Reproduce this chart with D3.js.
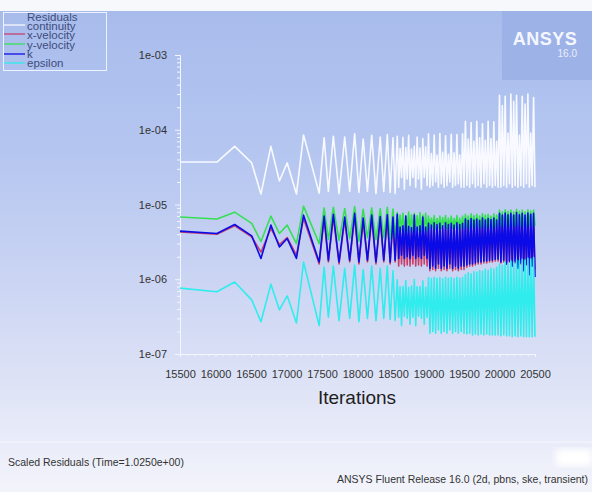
<!DOCTYPE html>
<html>
<head>
<meta charset="utf-8">
<script src="https://cdn.jsdelivr.net/npm/d3@7"></script>
<style>
  html, body { margin: 0; padding: 0; background: #fff; }
  svg { display: block; font-family: "Liberation Sans", Arial, sans-serif; }
</style>
</head>
<body>
<svg id="chart" width="592" height="492"></svg>
<script>
const SERIES = ["continuity", "x-velocity", "y-velocity", "k", "epsilon"];
const COLORS = ["#f8faff", "#c8406a", "#35e055", "#0b0be8", "#30ecec"];

const xTicks = [15500, 16000, 16500, 17000, 17500, 18000, 18500, 19000, 19500, 20000, 20500];
const yTicks = [1e-7, 1e-6, 1e-5, 1e-4, 1e-3];

// start-up part, one point per visible kink
const itersSparse = [15500, 16020, 16270, 16510, 16640, 16780, 16900, 17010, 17140, 17240,
  17460, 17530, 17590, 17660, 17740, 17820, 17890, 17960, 18020, 18080,
  18140, 18200, 18260, 18320, 18370, 18420, 18460, 18500, 18530];
// from 18560 on, every 20th iteration (jump at new step, then decay)
const itersDense = d3.range(18560, 20501, 20);

// continuity, units of 1e-5
const continuitySparse = [3.7, 3.7, 6.0, 3.6, 1.38, 6.0, 2.06, 3.6, 1.38, 8.5,
  1.42, 7.8, 1.5, 8.2, 1.4, 8.0, 1.5, 8.8, 1.45, 7.5,
  1.5, 8.4, 1.4, 8.0, 1.5, 8.6, 1.45, 7.8, 1.4];
const continuityDense = [
  8.2, 1.7, 5.6, 2.3, 7.9, 1.6, 5.8, 2.2, 8.4, 1.8, 5.5, 2.3, 6.0, 1.7, 8.0, 2.2, 5.7, 1.6, 7.6, 2.3, 5.9, 1.8,
  8.8, 1.7, 4.8, 1.8, 8.5, 2.0, 4.6, 1.7, 8.9, 1.9, 5.0, 1.7, 8.3, 1.8, 4.7, 2.0, 8.7, 1.7, 4.9, 1.8, 8.6, 1.9, 4.6, 1.7, 8.8,
  1.7, 13, 1.8, 7.5, 1.7, 12.5, 1.9, 7.0, 1.7, 13, 1.8, 7.8, 1.7, 12, 1.9, 7.2, 1.7, 13, 1.8, 7.6, 1.7, 12.8, 1.8, 7.0, 1.7,
  29, 1.7, 21, 1.8, 28, 1.7, 9, 1.9, 30, 1.7, 24, 1.8, 29, 1.7, 8.5, 1.8, 28, 1.7, 22, 1.9, 30, 1.7, 9, 1.8, 27, 1.7];

// x-velocity, units of 1e-6
const xvelSparse = [4.3, 4.0, 5.2, 3.7, 2.3, 4.8, 2.9, 3.6, 2.1, 6.5,
  1.6, 6.3, 1.7, 6.7, 1.6, 6.2, 1.7, 6.9, 1.6, 6.0,
  1.7, 6.5, 1.6, 6.3, 1.7, 6.6, 1.6, 6.2, 1.7];
const xvelDense = [
  6.5, 1.5, 4.6, 1.6, 4.8, 1.5, 6.2, 1.55, 4.7, 1.5, 4.5, 1.6, 6.4, 1.5, 4.6, 1.55, 4.8, 1.5, 6.0, 1.6, 4.6, 1.5,
  5.0, 1.3, 4.8, 1.35, 5.1, 1.3, 4.9, 1.4, 5.0, 1.3, 4.7, 1.35, 5.1, 1.3, 4.9, 1.4, 5.0, 1.3, 4.8, 1.35, 5.1, 1.3, 4.9, 1.35, 5.0,
  1.35, 5.8, 1.45, 5.5, 1.5, 5.9, 1.5, 5.6, 1.55, 5.8, 1.6, 5.5, 1.6, 6.0, 1.65, 5.6, 1.65, 5.9, 1.7, 5.7, 1.7, 6.0, 1.75, 5.6, 1.75,
  6.8, 1.65, 6.5, 1.7, 6.9, 1.6, 6.6, 1.7, 6.8, 1.55, 6.5, 1.65, 7.0, 1.5, 6.6, 1.6, 6.8, 1.45, 6.5, 1.55, 6.9, 1.4, 6.6, 1.5, 6.8, 1.35];

// y-velocity, units of 1e-6
const yvelSparse = [6.8, 6.4, 7.9, 5.6, 3.2, 7.0, 4.1, 5.3, 3.0, 9.5,
  3.0, 9.0, 3.4, 9.2, 3.3, 8.8, 3.5, 9.4, 3.2, 8.6,
  3.6, 9.0, 3.4, 8.8, 3.6, 9.2, 3.5, 8.7, 3.6];
const yvelDense = [
  7.8, 4.3, 7.2, 4.6, 7.7, 4.2, 7.0, 4.5, 7.9, 4.3, 7.3, 4.6, 7.6, 4.2, 7.1, 4.5, 7.8, 4.4, 7.2, 4.6, 7.6, 4.3,
  7.0, 4.8, 6.6, 5.0, 7.1, 4.7, 6.5, 4.9, 7.0, 4.8, 6.7, 5.0, 7.1, 4.7, 6.6, 4.9, 7.0, 4.8, 6.5, 5.0, 7.1, 4.7, 6.6, 4.9, 7.0,
  4.8, 7.4, 5.0, 7.0, 4.8, 7.5, 5.1, 7.1, 4.9, 7.4, 5.0, 7.0, 4.8, 7.5, 5.1, 7.2, 4.9, 7.4, 5.0, 7.0, 4.8, 7.5, 5.0, 7.2, 4.9,
  8.4, 5.2, 8.0, 5.0, 8.5, 5.3, 8.1, 5.1, 8.4, 5.2, 8.0, 5.0, 8.6, 5.3, 8.1, 5.1, 8.4, 5.2, 8.0, 5.0, 8.5, 5.3, 8.2, 5.1, 8.4, 5.2];

// k, units of 1e-6
const kSparse = [4.4, 4.1, 5.4, 3.8, 1.9, 5.3, 2.7, 3.5, 1.9, 7.2,
  1.7, 7.0, 1.8, 7.4, 1.7, 6.8, 1.8, 7.6, 1.7, 6.6,
  1.8, 7.2, 1.7, 6.9, 1.8, 7.3, 1.7, 6.8, 1.8];
const kDense = [
  7.4, 1.9, 5.0, 2.1, 5.2, 1.9, 7.0, 2.0, 5.1, 1.9, 4.9, 2.1, 7.2, 1.9, 5.0, 2.0, 5.2, 1.9, 6.8, 2.1, 5.0, 1.9,
  5.6, 1.4, 5.3, 1.5, 5.7, 1.4, 5.4, 1.6, 5.6, 1.4, 5.2, 1.5, 5.7, 1.4, 5.4, 1.6, 5.6, 1.4, 5.3, 1.5, 5.7, 1.4, 5.4, 1.5, 5.6,
  1.5, 6.4, 1.55, 6.1, 1.6, 6.5, 1.6, 6.2, 1.65, 6.4, 1.7, 6.1, 1.7, 6.6, 1.75, 6.2, 1.75, 6.5, 1.8, 6.3, 1.8, 6.6, 1.85, 6.2, 1.85,
  7.6, 1.7, 7.2, 1.8, 7.7, 1.6, 7.3, 1.75, 7.6, 1.5, 7.2, 1.7, 7.8, 1.4, 7.3, 1.65, 7.6, 1.3, 7.2, 1.6, 7.7, 1.15, 7.4, 1.5, 7.6, 1.07];

// epsilon, units of 1e-7
const epsSparse = [7.6, 6.8, 9.2, 5.3, 2.7, 8.6, 3.9, 6.0, 2.6, 17,
  2.4, 14.5, 3.1, 15, 2.8, 14, 3.0, 15.5, 2.7, 13.5,
  3.0, 15, 2.8, 14, 3.0, 15, 2.9, 13, 2.8];
const epsDense = [
  9.8, 3.1, 7.9, 2.4, 8.0, 3.2, 9.6, 3.0, 7.8, 2.5, 8.1, 3.1, 9.9, 2.4, 7.9, 3.2, 8.0, 3.0, 9.5, 2.5, 7.8, 3.1,
  10.5, 1.9, 10.2, 2.0, 10.6, 1.9, 10.3, 2.1, 10.5, 1.9, 10.1, 2.0, 10.6, 1.9, 10.3, 2.1, 10.5, 1.9, 10.2, 2.0, 10.6, 1.9, 10.3, 2.0, 10.5,
  1.9, 11.5, 1.85, 12.2, 1.9, 11.8, 1.8, 12.6, 1.85, 12.4, 1.8, 13.1, 1.85, 12.8, 1.8, 13.6, 1.85, 13.2, 1.8, 14.0, 1.8, 13.7, 1.8, 14.5, 1.8,
  16, 1.75, 15.4, 1.8, 17, 1.75, 16.2, 1.75, 17.5, 1.7, 17.0, 1.75, 18, 1.7, 17.6, 1.75, 18.5, 1.7, 18.0, 1.7, 19, 1.7, 18.6, 1.7, 19.5, 1.7];

const UNITS = [1e-5, 1e-6, 1e-6, 1e-6, 1e-7];
const RAW = [
  [continuitySparse, continuityDense],
  [xvelSparse, xvelDense],
  [yvelSparse, yvelDense],
  [kSparse, kDense],
  [epsSparse, epsDense],
];

// ---- layout ----
const W = 592, H = 492;
const svg = d3.select("#chart");

const defs = svg.append("defs");
const grad = defs.append("linearGradient").attr("id", "bg").attr("x1", 0).attr("x2", 0).attr("y1", 0).attr("y2", 1);
[[0, "#a8bcec"], [0.3, "#b5c6f0"], [0.55, "#cad4f3"], [0.78, "#dee3f6"], [1, "#f3f4fb"]]
  .forEach(([o, c]) => grad.append("stop").attr("offset", o).attr("stop-color", c));
defs.append("filter").attr("id", "blur").append("feGaussianBlur").attr("stdDeviation", 3);

svg.append("rect").attr("width", W).attr("height", H).attr("fill", "#f7f8fc");
svg.append("rect").attr("y", 11).attr("width", W).attr("height", H - 11).attr("fill", "url(#bg)");
svg.append("line").attr("x1", 0).attr("x2", W).attr("y1", 442).attr("y2", 442)
  .attr("stroke", "#f6f7fd").attr("stroke-width", 1);

// logo box
svg.append("rect").attr("x", 502).attr("y", 11).attr("width", 90).attr("height", 69).attr("fill", "#9db2e7");
svg.append("text").attr("x", 545).attr("y", 45).attr("text-anchor", "middle")
  .attr("font-size", 18).attr("font-weight", "bold").attr("letter-spacing", 0.5)
  .attr("fill", "#f4f7ff").text("ANSYS");
svg.append("text").attr("x", 577).attr("y", 57).attr("text-anchor", "end")
  .attr("font-size", 10).attr("fill", "#e8eefc").text("16.0");

// scales
const x = d3.scaleLinear().domain([15500, 20500]).range([180, 535]);
const y = d3.scaleLog().domain([1e-7, 1e-3]).range([354, 55]);

// axes
const axisColor = "#f4f6ff";
const yMinor = [];
yTicks.slice(0, -1).forEach(d => [2, 3, 4, 5, 6, 7, 8, 9].forEach(m => yMinor.push(d * m)));

svg.append("g").attr("transform", "translate(180,0)")
  .call(d3.axisLeft(y).tickValues(yTicks).tickSize(5).tickPadding(8)
    .tickFormat(d => d.toExponential(0).replace("e-", "e-0")));
svg.append("g").attr("transform", "translate(180,0)")
  .call(d3.axisLeft(y).tickValues(yMinor).tickSize(3).tickFormat(""))
  .select(".domain").remove();

const xMinor = d3.range(15600, 20500, 100).filter(d => !xTicks.includes(d));
svg.append("g").attr("transform", "translate(0,354)")
  .call(d3.axisBottom(x).tickValues(xTicks).tickSize(3).tickPadding(13).tickFormat(d3.format("d")));
svg.append("g").attr("transform", "translate(0,354)")
  .call(d3.axisBottom(x).tickValues(xMinor).tickSize(2).tickFormat(""))
  .select(".domain").remove();

svg.selectAll(".domain, .tick line").attr("stroke", axisColor);
svg.selectAll(".tick text").attr("font-size", 11).attr("fill", "#333")
  .attr("font-family", "'Liberation Sans', Arial, sans-serif");

svg.append("text").attr("x", 357).attr("y", 404).attr("text-anchor", "middle")
  .attr("font-size", 19).attr("fill", "#1e1e1e").text("Iterations");

// residual lines
const line = d3.line().x(d => x(d[0])).y(d => y(d[1]));
const iters = itersSparse.concat(itersDense);
RAW.forEach(([sparse, dense], i) => {
  const vals = sparse.concat(dense).map(v => v * UNITS[i]);
  const pts = iters.map((it, j) => [it, vals[j]]);
  svg.append("path").datum(pts)
    .attr("d", line)
    .attr("fill", "none")
    .attr("stroke", COLORS[i])
    .attr("stroke-width", 1.6)
    .attr("stroke-linejoin", "round");
});

// legend (the labels overlap a little in the original too)
const leg = svg.append("g");
leg.append("rect").attr("x", 3.5).attr("y", 12.5).attr("width", 103).attr("height", 58)
  .attr("fill", "none").attr("stroke", "#eef2ff");
leg.append("text").attr("x", 27).attr("y", 21).attr("font-size", 11.5).attr("fill", "#3d4c7c").text("Residuals");
const legLineY = [25, 34, 44, 54, 63];
const legTextY = [30, 39, 48.5, 58, 67];
SERIES.forEach((s, i) => {
  leg.append("line").attr("x1", 4).attr("x2", 25).attr("y1", legLineY[i]).attr("y2", legLineY[i])
    .attr("stroke", COLORS[i]).attr("stroke-width", 1.5).attr("opacity", 0.85);
  leg.append("text").attr("x", 27).attr("y", legTextY[i]).attr("font-size", 11.5)
    .attr("fill", "#3d4c7c").text(s);
});

// footer
svg.append("rect").attr("x", 556).attr("y", 449).attr("width", 36).attr("height", 17)
  .attr("fill", "#ffffff").attr("filter", "url(#blur)");
svg.append("text").attr("x", 8).attr("y", 466).attr("font-size", 10.5).attr("fill", "#333")
  .text("Scaled Residuals  (Time=1.0250e+00)");
svg.append("text").attr("x", 588).attr("y", 483).attr("text-anchor", "end").attr("font-size", 10.5)
  .attr("fill", "#333").text("ANSYS Fluent Release 16.0 (2d, pbns, ske, transient)");
</script>
</body>
</html>
